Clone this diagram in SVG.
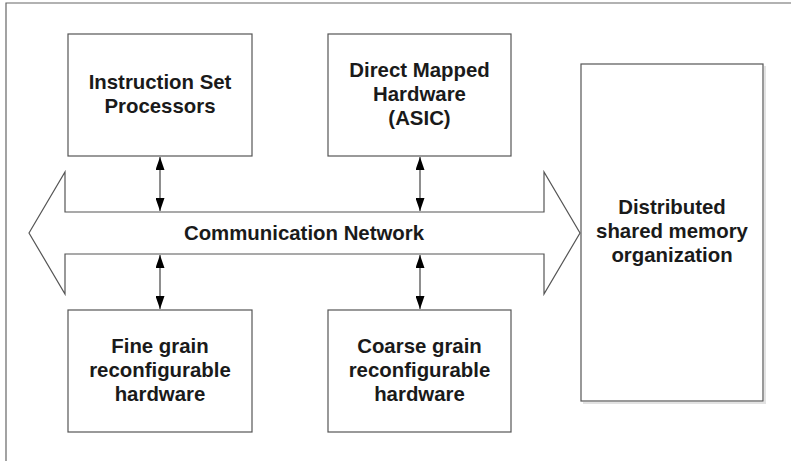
<svg xmlns="http://www.w3.org/2000/svg" width="791" height="461" viewBox="0 0 791 461">
  <style>
    .box { fill: #ffffff; stroke: #555555; stroke-width: 1.2; }
    .frame { fill: none; stroke: #666666; stroke-width: 1.2; }
    .link { stroke: #444444; stroke-width: 1.2; fill: none; marker-start: url(#head); marker-end: url(#head); }
    .label { font-family: "Liberation Sans", Arial, sans-serif; font-weight: bold; font-size: 20.4px; fill: #1a1a1a; text-anchor: middle; }
  </style>
  <defs>
    <marker id="head" viewBox="0 0 13 9" refX="13" refY="4.5" markerWidth="13" markerHeight="9" markerUnits="userSpaceOnUse" orient="auto-start-reverse">
      <path d="M0,0 L13,4.5 L0,9 z" fill="#000000"/>
    </marker>
  </defs>

  <rect width="791" height="461" fill="#ffffff"/>

  <!-- outer frame: only top and left edges fall inside the canvas -->
  <path class="frame" d="M6,461 L6,3 L791,3"/>

  <!-- double-headed network arrow -->
  <g id="network">
    <polygon class="box" points="29,233 65,172 65,212 544,212 544,172 580,233 544,294 544,254 65,254 65,294"/>
    <text class="label" x="304" y="240">Communication Network</text>
  </g>

  <g id="isp">
    <rect class="box" x="68" y="34" width="184" height="122"/>
    <text class="label" x="160" y="89">Instruction Set</text>
    <text class="label" x="160" y="113">Processors</text>
  </g>

  <g id="asic">
    <rect class="box" x="328" y="34" width="183" height="122"/>
    <text class="label" x="419.5" y="77">Direct Mapped</text>
    <text class="label" x="419.5" y="101">Hardware</text>
    <text class="label" x="419.5" y="125">(ASIC)</text>
  </g>

  <g id="fine">
    <rect class="box" x="68" y="310" width="184" height="122"/>
    <text class="label" x="160" y="353">Fine grain</text>
    <text class="label" x="160" y="377">reconfigurable</text>
    <text class="label" x="160" y="401">hardware</text>
  </g>

  <g id="coarse">
    <rect class="box" x="328" y="310" width="183" height="122"/>
    <text class="label" x="419.5" y="353">Coarse grain</text>
    <text class="label" x="419.5" y="377">reconfigurable</text>
    <text class="label" x="419.5" y="401">hardware</text>
  </g>

  <g id="memory">
    <path d="M765,66 L765,403 L583,403" fill="none" stroke="#e2e2e2" stroke-width="2"/>
    <rect class="box" x="581" y="64" width="182" height="337"/>
    <text class="label" x="672" y="214">Distributed</text>
    <text class="label" x="672" y="238">shared memory</text>
    <text class="label" x="672" y="262">organization</text>
  </g>

  <g id="connectors">
    <line class="link" x1="160" y1="157" x2="160" y2="211"/>
    <line class="link" x1="420" y1="157" x2="420" y2="211"/>
    <line class="link" x1="160" y1="255" x2="160" y2="309"/>
    <line class="link" x1="420" y1="255" x2="420" y2="309"/>
  </g>
</svg>
